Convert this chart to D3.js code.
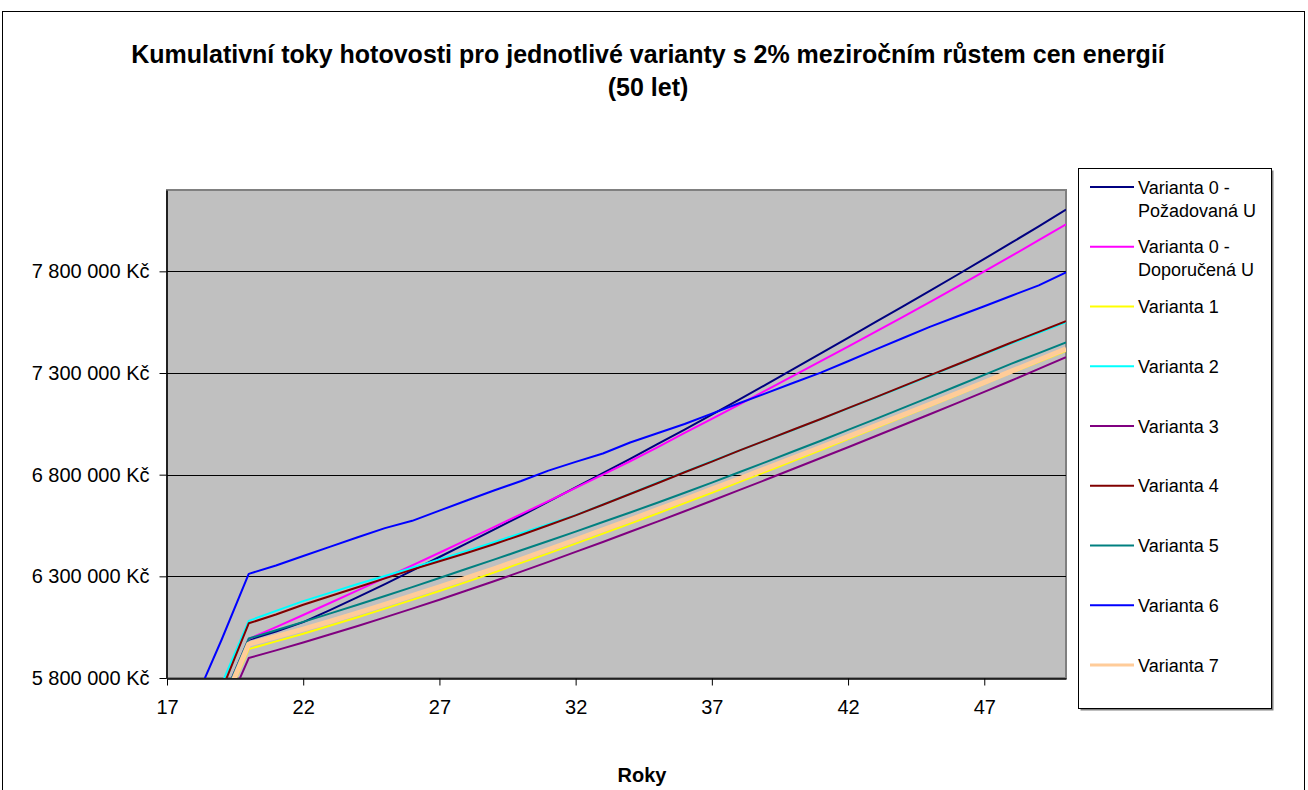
<!DOCTYPE html>
<html>
<head>
<meta charset="utf-8">
<script src="https://cdn.jsdelivr.net/npm/d3@7/dist/d3.min.js"></script>
<style>
  body { margin: 0; background: #fff; }
  svg { display: block; font-family: "Liberation Sans", Arial, sans-serif; }
</style>
</head>
<body>
<div id="chart"></div>
<script>
// roky (osa x) a kumulativni toky v tis. Kc
var years = [18, 19, 20, 21, 22, 23, 24, 25, 26, 27, 28, 29, 30, 31, 32, 33, 34,
             35, 36, 37, 38, 39, 40, 41, 42, 43, 44, 45, 46, 47, 48, 49, 50];

var v0Pozadovana = [5370, 5680, 5988, 6028, 6075, 6135, 6198, 6262, 6328, 6395, 6462, 6530, 6598, 6667, 6737, 6807, 6878,
                    6950, 7022, 7095, 7169, 7244, 7320, 7396, 7473, 7550, 7627, 7704, 7782, 7861, 7941, 8021, 8104];
var v0Doporucena = [5370, 5680, 5992, 6050, 6110, 6170, 6231, 6292, 6354, 6416, 6479, 6542, 6606, 6670, 6735, 6800, 6866,
                    6934, 7005, 7074, 7145, 7216, 7287, 7358, 7430, 7502, 7575, 7649, 7724, 7800, 7876, 7953, 8031];
var v1 = [5328, 5638, 5942, 5980, 6018, 6058, 6099, 6141, 6184, 6228, 6273, 6319, 6366, 6413, 6461, 6510, 6559,
          6609, 6660, 6711, 6763, 6815, 6868, 6921, 6975, 7029, 7083, 7137, 7192, 7247, 7302, 7355, 7408];
var v2 = [5458, 5768, 6081, 6130, 6178, 6220, 6262, 6302, 6342, 6383, 6425, 6468, 6512, 6556, 6601, 6653, 6706,
          6760, 6813, 6866, 6918, 6970, 7021, 7073, 7126, 7179, 7232, 7286, 7340, 7393, 7446, 7498, 7550];
var v3 = [5281, 5591, 5898, 5936, 5975, 6015, 6056, 6098, 6141, 6185, 6230, 6276, 6323, 6371, 6420, 6469, 6519,
          6569, 6620, 6672, 6724, 6776, 6829, 6882, 6935, 6989, 7043, 7097, 7152, 7207, 7263, 7320, 7378];
var v4 = [5427, 5737, 6069, 6112, 6160, 6203, 6246, 6290, 6333, 6374, 6415, 6458, 6503, 6551, 6600, 6652, 6705,
          6758, 6812, 6864, 6918, 6970, 7022, 7074, 7127, 7180, 7234, 7288, 7342, 7396, 7450, 7502, 7555];
var v5 = [5370, 5680, 5994, 6035, 6076, 6118, 6160, 6203, 6247, 6292, 6337, 6382, 6428, 6474, 6520, 6567, 6614,
          6662, 6711, 6761, 6812, 6863, 6915, 6967, 7020, 7073, 7127, 7181, 7236, 7291, 7346, 7398, 7450];
var v6 = [5679, 5987, 6312, 6353, 6400, 6446, 6492, 6537, 6573, 6623, 6673, 6722, 6769, 6820, 6863, 6904, 6958,
          7004, 7049, 7100, 7151, 7201, 7252, 7302, 7358, 7415, 7471, 7527, 7578, 7628, 7680, 7731, 7795];
var v7 = [5341, 5651, 5967, 6003, 6040, 6079, 6120, 6162, 6205, 6248, 6292, 6337, 6384, 6432, 6480, 6529, 6578,
          6628, 6678, 6729, 6780, 6831, 6883, 6935, 6987, 7040, 7093, 7146, 7200, 7254, 7309, 7364, 7419];

var seriesNames = ["Varianta 0 - Požadovaná U", "Varianta 0 - Doporučená U", "Varianta 1", "Varianta 2",
                   "Varianta 3", "Varianta 4", "Varianta 5", "Varianta 6", "Varianta 7"];
var seriesValues = [v0Pozadovana, v0Doporucena, v1, v2, v3, v4, v5, v6, v7];
var seriesColors = ["#000080", "#ff00ff", "#ffff00", "#00ffff", "#800080", "#800000", "#008080", "#0000ff", "#ffcc99"];
var seriesWidths = [2, 2, 2, 2, 2, 2, 2, 2, 5];

var yTicks = [5800, 6300, 6800, 7300, 7800];
var xTicks = [17, 22, 27, 32, 37, 42, 47];

function chart() {
    var width = 1308, height = 790;
    var plot = {left: 167, top: 190, right: 1066, bottom: 678};

    var x = d3.scaleLinear().domain([17, 50]).range([plot.left, plot.right]);
    var y = d3.scaleLinear().domain([5800, 8200]).range([plot.bottom, plot.top]);

    var kc = function(v) { return d3.format(",")(v * 1000).replace(/,/g, " ") + " Kč"; };

    var svg = d3.select("#chart").append("svg")
        .attr("width", width)
        .attr("height", height);

    // ramecek grafu
    svg.append("rect")
        .attr("x", 2.5).attr("y", 11.5)
        .attr("width", 1302).attr("height", 800)
        .attr("fill", "#fff").attr("stroke", "#000");

    // titulek
    var title = svg.append("text")
        .attr("text-anchor", "middle")
        .attr("font-size", 25)
        .attr("font-weight", "bold");
    title.append("tspan").attr("x", 648).attr("y", 63)
        .text("Kumulativní toky hotovosti pro jednotlivé varianty s 2% meziročním růstem cen energií");
    title.append("tspan").attr("x", 648).attr("y", 96).text("(50 let)");

    // plocha grafu
    svg.append("rect")
        .attr("x", plot.left).attr("y", plot.top)
        .attr("width", plot.right - plot.left).attr("height", plot.bottom - plot.top)
        .attr("fill", "#c0c0c0")
        .attr("stroke", "#808080").attr("stroke-width", 2);

    svg.append("g").selectAll("line")
        .data(yTicks.slice(1))
        .enter().append("line")
        .attr("x1", plot.left).attr("x2", plot.right)
        .attr("y1", function(d) { return Math.round(y(d)) + 0.5; })
        .attr("y2", function(d) { return Math.round(y(d)) + 0.5; })
        .attr("stroke", "#000");

    svg.append("clipPath").attr("id", "clip")
        .append("rect")
        .attr("x", plot.left).attr("y", plot.top)
        .attr("width", plot.right - plot.left).attr("height", plot.bottom - plot.top);

    var line = d3.line()
        .x(function(d, i) { return x(years[i]); })
        .y(function(d) { return y(d); });

    svg.append("g")
        .attr("clip-path", "url(#clip)")
        .selectAll("path")
        .data(seriesValues)
        .enter().append("path")
        .attr("d", function(d) { return line(d); })
        .attr("fill", "none")
        .attr("stroke", function(d, i) { return seriesColors[i]; })
        .attr("stroke-width", function(d, i) { return seriesWidths[i]; })
        .attr("stroke-linejoin", "round");

    // osy
    var yAxis = d3.axisLeft(y).tickValues(yTicks).tickFormat(kc)
        .tickSize(7).tickSizeOuter(0).tickPadding(10);
    var xAxis = d3.axisBottom(x).tickValues(xTicks)
        .tickSize(7).tickSizeOuter(0).tickPadding(14);

    var gy = svg.append("g")
        .attr("transform", "translate(" + (plot.left - 0.5) + ",0)")
        .call(yAxis);
    var gx = svg.append("g")
        .attr("transform", "translate(0," + (plot.bottom + 0.5) + ")")
        .call(xAxis);

    [gx, gy].forEach(function(g) {
        g.attr("font-family", null).attr("font-size", 20);
        g.select(".domain").attr("stroke", "#000").attr("stroke-width", 1.5);
        g.selectAll(".tick line").attr("stroke", "#000");
        g.selectAll(".tick text").attr("fill", "#000");
    });

    svg.append("text")
        .attr("x", 642).attr("y", 782)
        .attr("text-anchor", "middle")
        .attr("font-size", 20)
        .attr("font-weight", "bold")
        .text("Roky");

    // legenda
    var leg = {left: 1078, top: 168, right: 1271, bottom: 708, first: 187, step: 59.75};
    svg.append("rect")
        .attr("x", leg.left + 2.5).attr("y", leg.top + 2.5)
        .attr("width", leg.right - leg.left).attr("height", leg.bottom - leg.top)
        .attr("fill", "#808080");
    svg.append("rect")
        .attr("x", leg.left + 0.5).attr("y", leg.top + 0.5)
        .attr("width", leg.right - leg.left).attr("height", leg.bottom - leg.top)
        .attr("fill", "#fff").attr("stroke", "#000");

    var item = svg.append("g").selectAll("g")
        .data(seriesNames)
        .enter().append("g")
        .attr("transform", function(d, i) { return "translate(0," + (leg.first + i * leg.step) + ")"; });

    item.append("line")
        .attr("x1", 1090).attr("x2", 1134)
        .attr("stroke", function(d, i) { return seriesColors[i]; })
        .attr("stroke-width", function(d, i) { return seriesWidths[i] == 5 ? 3 : 2; });

    item.append("text")
        .attr("font-size", 18)
        .attr("fill", "#000")
        .each(function(d) {
            var parts = d.indexOf(" - ") > 0 ? [d.split(" - ")[0] + " -", d.split(" - ")[1]] : [d];
            var t = d3.select(this);
            parts.forEach(function(p, k) {
                t.append("tspan").attr("x", 1138).attr("y", 6.5 + k * 23).text(p);
            });
        });
}
chart();
</script>
</body>
</html>
